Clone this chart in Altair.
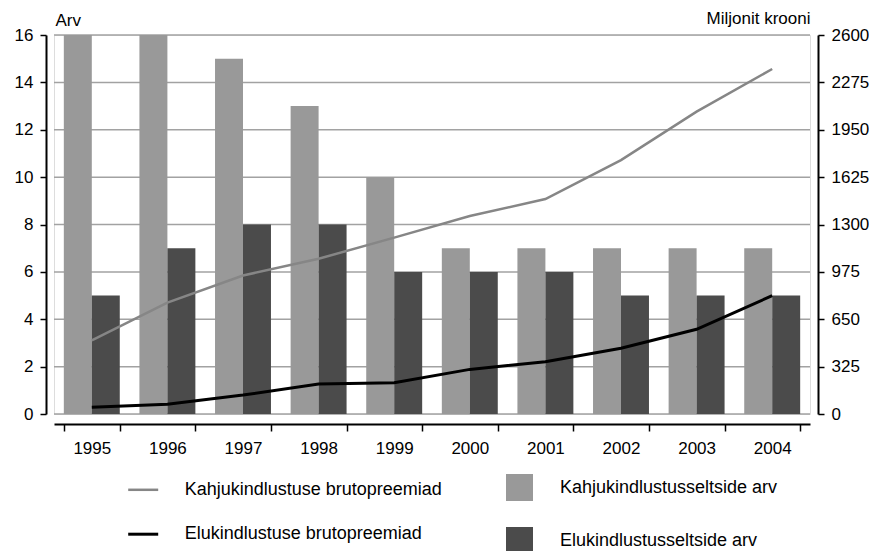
import altair as alt
import pandas as pd

years = ["1995", "1996", "1997", "1998", "1999", "2000", "2001", "2002", "2003", "2004"]
kahju_arv = [16, 16, 15, 13, 10, 7, 7, 7, 7, 7]
elu_arv = [5, 7, 8, 8, 6, 6, 6, 5, 5, 5]
kahju_prem = [505, 764, 950, 1065, 1210, 1358, 1475, 1742, 2074, 2367]
elu_prem = [46, 67, 130, 206, 215, 306, 359, 451, 581, 812]

S_KP = "Kahjukindlustuse brutopreemiad"
S_EP = "Elukindlustuse brutopreemiad"
S_KA = "Kahjukindlustusseltside arv"
S_EA = "Elukindlustusseltside arv"

left_ticks = list(range(0, 17, 2))
right_ticks = [0, 325, 650, 975, 1300, 1625, 1950, 2275, 2600]

bars = pd.DataFrame({
    "year": years * 2,
    "series": [S_KA] * len(years) + [S_EA] * len(years),
    "value": kahju_arv + elu_arv,
})
lines = pd.DataFrame({
    "year": years * 2,
    "series": [S_KP] * len(years) + [S_EP] * len(years),
    "value": kahju_prem + elu_prem,
})
grid = pd.DataFrame({"gv": left_ticks})

FONT = "Liberation Sans"
TICK_FS = 17
LEG_FS = 18

x_enc = alt.X(
    "year:N",
    sort=years,
    scale=alt.Scale(paddingInner=0.26, paddingOuter=0.13),
    axis=alt.Axis(
        title=None, tickBand="extent", offset=10, domainColor="black", domainWidth=2,
        tickColor="black", tickWidth=1.5, tickSize=7, labelAngle=0, labelPadding=9,
        labelFontSize=TICK_FS, labelColor="black", labelFont=FONT, grid=False,
    ),
)

left_scale = alt.Scale(domain=[0, 16], nice=False)

y_left = alt.Y(
    "value:Q",
    scale=left_scale,
    axis=alt.Axis(
        values=left_ticks, title="Arv", titleAngle=0, titleX=9, titleY=-10,
        titleAlign="left", titleBaseline="alphabetic", titleFontSize=TICK_FS,
        titleFontWeight="normal", titleFont=FONT, titleColor="black",
        offset=8, domainColor="black", domainWidth=2, tickColor="black",
        tickWidth=1.5, tickSize=6, labelFontSize=TICK_FS, labelFont=FONT,
        labelColor="black", labelPadding=7, grid=False,
    ),
)

grid_layer = alt.Chart(grid).mark_rule(color="#a2a2a2", strokeWidth=1.5, opacity=1).encode(
    y=alt.Y("gv:Q", scale=left_scale),
    x=alt.value(0),
    x2=alt.value(756),
)

bar_layer = alt.Chart(bars).mark_bar().encode(
    x=x_enc,
    xOffset=alt.XOffset("series:N", sort=[S_KA, S_EA],
                        scale=alt.Scale(domain=[S_KA, S_EA], paddingInner=0, paddingOuter=0)),
    y=y_left,
    fill=alt.Fill(
        "series:N",
        scale=alt.Scale(domain=[S_KA, S_EA], range=["#999999", "#4b4b4b"]),
        legend=alt.Legend(
            title=None, orient="none", legendX=452, legendY=439, direction="vertical",
            symbolType="square", symbolSize=729, symbolStrokeWidth=0,
            symbolOpacity=1, labelFontSize=LEG_FS, labelFont=FONT, labelColor="black",
            labelOffset=27, rowPadding=26, padding=0, labelLimit=500,
        ),
    ),
)

line_layer = alt.Chart(lines).mark_line().encode(
    x=alt.X("year:N", sort=years),
    y=alt.Y(
        "value:Q",
        scale=alt.Scale(domain=[0, 2600], nice=False),
        axis=alt.Axis(
            orient="right", values=right_ticks, format="d", title="Miljonit krooni",
            titleAngle=0, titleX=-8, titleY=-12, titleAlign="right",
            titleBaseline="alphabetic", titleFontSize=TICK_FS, titleFontWeight="normal",
            titleFont=FONT, titleColor="black", offset=8, domainColor="black",
            domainWidth=2, tickColor="black", tickWidth=1.5, tickSize=6,
            labelFontSize=TICK_FS, labelFont=FONT, labelColor="black", labelPadding=7,
            grid=False,
        ),
    ),
    stroke=alt.Stroke(
        "series:N",
        scale=alt.Scale(domain=[S_KP, S_EP], range=["#868686", "#000000"]),
        legend=alt.Legend(
            title=None, orient="none", legendX=72.7, legendY=438.3, direction="vertical",
            symbolType="stroke", symbolSize=900, symbolStrokeWidth=3.5,
            labelFontSize=LEG_FS, labelFont=FONT, labelColor="black",
            labelOffset=25, rowPadding=18.4, padding=0, labelLimit=500,
        ),
    ),
    strokeWidth=alt.StrokeWidth(
        "series:N", scale=alt.Scale(domain=[S_KP, S_EP], range=[2.5, 3]), legend=None
    ),
)

chart = (
    alt.layer(alt.layer(grid_layer, bar_layer), line_layer)
    .resolve_scale(y="independent")
    .properties(
        width=756, height=379,
        padding={"left": 46, "top": 27, "right": 59, "bottom": 137},
        autosize=alt.AutoSizeParams(type="none"),
    )
    .configure_view(stroke=None)
    .configure(font=FONT)
)

chart.save("out.html", embed_options={"renderer": "svg", "actions": False})
